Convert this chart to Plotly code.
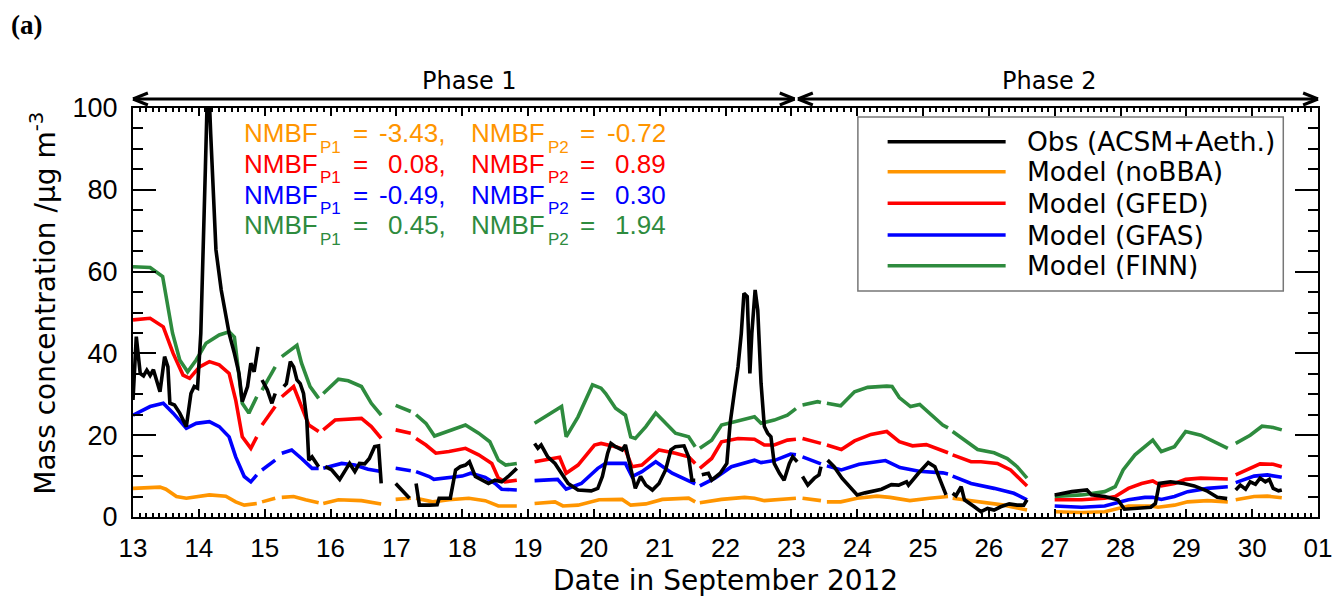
import plotly.graph_objects as go

# ---------------- data (day of September 2012, concentration) ----------------
finn_t = [13.00,13.26,13.45,13.60,13.71,13.83,13.96,14.11,14.31,14.46,14.54,14.61,14.66,14.76,14.88,None,
          14.96,15.16,None,
          15.26,15.49,15.56,15.69,15.82,None,
          15.89,16.12,16.27,16.47,16.62,16.77,None,
          16.99,17.22,None,
          17.30,17.45,17.58,17.78,18.05,18.25,18.42,18.55,18.66,18.83,None,
          19.10,19.51,19.58,19.76,19.98,20.11,20.18,20.33,20.48,20.56,20.63,20.79,20.94,21.09,21.24,21.44,21.54,None,
          21.61,21.79,21.94,22.14,22.44,22.54,22.74,22.94,23.07,None,
          23.17,23.40,23.45,None,
          23.54,23.75,23.96,24.16,24.45,24.53,24.64,24.81,24.95,25.16,25.30,25.38,None,
          25.45,25.63,25.83,26.08,26.28,26.43,26.58,None,
          27.00,27.41,27.76,27.92,28.04,28.22,28.49,28.62,28.82,28.99,29.22,29.47,29.63,None,
          29.75,29.97,30.15,30.32,30.45]
finn_v = [61.2,61.0,58.8,45.0,38.4,35.5,38.4,42.5,44.5,45.3,44.0,35.2,27.8,25.4,29.4,None,
          31.0,36.7,None,
          39.2,42.0,37.6,31.9,29.0,None,
          30.2,33.7,33.3,31.9,27.8,24.9,None,
          27.3,25.8,None,
          25.0,22.9,19.8,20.9,22.5,20.5,18.4,13.9,12.7,13.1,None,
          22.9,27.0,19.6,24.5,32.3,31.5,30.2,26.6,24.9,19.6,19.2,22.1,25.4,22.9,20.5,19.6,17.2,None,
          16.8,18.8,22.5,23.3,24.5,22.9,23.7,24.9,26.5,None,
          27.4,28.2,28.0,None,
          27.8,27.2,30.6,31.7,32.0,31.9,29.2,27.0,27.5,24.5,22.5,21.8,None,
          20.9,18.8,16.5,15.7,14.3,12.3,9.5,None,
          5.0,5.4,6.2,7.4,11.5,15.2,18.8,16.0,17.2,20.9,20.0,18.0,16.8,None,
          18.0,20.0,22.2,21.9,21.3]

gfed_t = [13.00,13.26,13.46,13.61,13.76,13.86,14.01,14.16,14.31,14.46,14.56,14.66,14.79,14.88,None,
          14.96,15.16,None,
          15.26,15.44,15.56,15.67,15.82,None,
          15.89,16.07,16.47,16.62,16.77,None,
          16.99,17.22,None,
          17.30,17.45,17.60,17.80,18.05,18.25,18.45,18.55,18.65,18.83,None,
          19.10,19.48,19.58,19.76,20.01,20.11,20.33,20.48,20.58,20.73,20.99,21.24,21.44,21.54,None,
          21.61,21.79,21.94,22.19,22.44,22.59,22.74,22.94,23.07,None,
          23.17,23.45,None,
          23.54,23.76,23.96,24.21,24.45,24.64,24.84,25.05,25.30,25.38,None,
          25.45,25.73,25.88,26.13,26.33,26.58,None,
          27.00,27.41,27.76,27.92,28.12,28.32,28.49,28.62,28.82,28.99,29.22,29.63,None,
          29.75,30.12,30.32,30.45]
gfed_v = [48.2,48.6,46.5,40.0,34.7,33.9,36.7,38.0,37.2,35.1,28.6,19.6,16.8,19.6,None,
          22.5,27.0,None,
          29.4,31.9,27.0,22.5,20.9,None,
          21.3,23.7,24.1,22.1,19.2,None,
          21.3,20.5,None,
          19.2,17.6,15.6,16.0,16.8,15.2,13.1,9.5,8.6,9.0,None,
          13.5,14.6,10.7,12.7,17.6,18.0,17.2,16.4,12.3,12.7,16.4,15.6,14.7,13.1,None,
          11.9,14.3,18.4,19.2,19.0,17.6,17.6,18.8,19.0,None,
          19.2,18.0,None,
          17.6,16.5,18.6,20.2,20.9,18.4,17.4,17.7,16.2,15.7,None,
          15.2,13.5,13.5,13.1,11.5,7.6,None,
          4.2,4.2,4.6,5.0,7.0,8.2,8.8,7.6,8.2,9.2,9.5,9.3,None,
          10.3,13.0,12.9,12.3]

gfas_t = [13.00,13.26,13.46,13.61,13.81,13.96,14.16,14.31,14.46,14.56,14.69,14.79,14.88,None,
          14.96,15.16,None,
          15.26,15.41,15.56,15.72,15.82,None,
          15.89,16.17,16.37,16.57,16.77,None,
          16.99,17.22,None,
          17.30,17.50,17.57,17.80,18.00,18.13,18.35,18.50,18.60,18.83,None,
          19.10,19.45,19.58,19.81,20.06,20.18,20.48,20.58,20.73,20.94,21.19,21.39,21.54,None,
          21.61,21.84,22.09,22.44,22.54,22.74,22.99,23.07,None,
          23.17,23.45,None,
          23.54,23.76,24.03,24.43,24.65,24.94,25.30,25.38,None,
          25.45,25.73,26.08,26.38,26.58,None,
          27.00,27.41,27.76,27.92,28.12,28.37,28.49,28.62,28.82,29.02,29.32,29.63,None,
          29.75,30.03,30.23,30.45]
gfas_v = [24.9,27.0,27.8,25.4,21.7,22.9,23.3,22.1,19.6,14.7,9.9,8.6,10.3,None,
          11.5,13.9,None,
          15.6,16.4,14.3,11.9,11.9,None,
          11.9,13.1,12.7,11.7,11.1,None,
          11.9,11.3,None,
          11.1,9.9,9.2,9.6,10.0,10.7,9.7,8.2,6.8,6.6,None,
          8.9,9.2,6.8,8.2,11.9,13.1,13.1,9.9,11.1,13.5,10.7,9.2,8.1,None,
          7.6,9.5,12.3,13.9,13.3,13.8,15.4,15.2,None,
          14.7,13.0,None,
          12.5,11.5,12.9,13.8,12.1,11.2,10.8,10.5,None,
          10.0,8.2,7.0,5.8,4.2,None,
          2.7,2.4,2.7,3.3,4.2,4.8,4.8,4.3,5.0,6.2,7.0,7.4,None,
          8.4,10.0,10.3,9.7]

nobba_t = [13.00,13.41,13.50,13.66,13.81,13.96,14.16,14.41,14.56,14.69,14.88,None,
           14.96,15.16,None,
           15.26,15.44,15.62,15.82,None,
           15.89,16.12,16.47,16.77,None,
           16.99,17.22,None,
           17.30,17.55,17.80,18.10,18.35,18.55,18.83,None,
           19.10,19.41,19.53,19.76,20.08,20.43,20.56,20.79,21.04,21.44,21.54,None,
           21.61,21.94,22.29,22.44,22.59,23.07,None,
           23.17,23.45,None,
           23.54,23.75,24.00,24.30,24.50,24.80,25.10,25.38,None,
           25.45,25.83,26.23,26.58,None,
           27.00,27.41,27.76,27.94,28.12,28.46,28.57,28.82,29.02,29.32,29.63,None,
           29.75,30.03,30.23,30.45]
nobba_v = [7.0,7.3,6.8,5.0,4.6,5.0,5.4,5.1,3.7,2.9,3.3,None,
           3.7,4.6,None,
           4.8,5.0,4.2,3.5,None,
           3.3,4.2,4.0,3.2,None,
           4.3,4.6,None,
           4.6,3.7,4.2,4.6,4.0,2.7,2.7,None,
           3.3,3.7,2.7,2.9,4.2,4.3,2.9,3.2,4.3,4.6,3.7,None,
           3.5,4.3,4.8,4.6,4.0,4.6,None,
           4.6,4.0,None,
           3.7,3.7,4.6,5.1,4.8,4.0,4.6,5.0,None,
           4.6,3.7,2.9,1.7,None,
           1.3,1.1,1.3,2.1,2.7,2.7,2.4,2.9,3.7,4.0,3.7,None,
           4.2,5.0,5.1,4.7]

obs_t = [13.00,13.05,13.11,13.16,13.21,13.26,13.31,13.36,13.41,13.48,13.53,13.56,13.63,13.71,13.81,13.88,13.93,13.98,
         14.03,14.10,14.14,14.18,14.26,14.34,14.41,14.46,14.54,14.61,14.66,14.74,14.79,14.84,14.90,None,
         14.96,15.04,15.11,15.16,None,
         15.29,15.33,15.39,15.44,15.49,15.54,15.59,15.64,15.67,15.72,15.82,None,
         15.92,16.02,16.14,16.22,16.29,16.37,16.44,16.52,16.59,16.67,16.73,16.77,None,
         16.99,17.10,17.20,None,
         17.30,17.35,17.50,17.62,17.65,17.82,17.90,17.97,18.05,18.11,18.20,18.30,18.40,18.50,18.60,18.70,18.83,None,
         19.10,19.15,19.20,19.30,19.41,19.51,19.61,19.76,19.96,20.06,20.13,20.21,20.26,20.33,20.43,20.48,20.53,
         20.63,20.71,20.79,20.89,20.99,21.09,21.17,21.24,21.37,21.44,21.49,21.54,None,
         21.64,21.74,21.79,21.92,22.02,22.07,22.14,22.19,22.24,22.28,22.33,22.37,22.40,22.45,22.49,22.54,22.59,
         22.64,22.69,22.74,22.82,22.89,22.97,23.02,23.09,None,
         23.17,23.25,23.35,23.42,23.45,None,
         23.55,23.65,23.77,24.00,24.12,24.37,24.52,24.63,24.75,24.78,24.93,25.08,25.18,25.35,None,
         25.45,25.50,25.58,25.63,25.78,25.88,25.98,26.08,26.18,26.31,26.43,26.53,26.58,None,
         27.00,27.26,27.49,27.56,27.76,27.96,28.06,28.26,28.46,28.53,28.59,28.76,28.96,29.12,29.31,29.47,29.62,None,
         29.75,29.82,29.90,29.97,30.05,30.12,30.20,30.26,30.32,30.40,30.45]
obs_v = [28.6,44.1,35.1,34.5,35.9,34.6,36.0,33.5,30.6,39.2,36.7,27.8,27.4,25.4,22.1,30.2,31.9,31.5,
         44.9,85.6,110.0,93.8,65.3,55.5,49.0,44.9,40.0,35.1,28.2,31.9,37.6,35.5,41.6,None,
         33.5,31.1,27.8,30.2,None,
         31.9,32.6,38.0,36.7,33.5,32.6,30.2,23.7,13.9,14.7,12.3,None,
         12.3,11.5,9.2,11.1,13.1,11.1,13.1,13.0,14.3,17.2,17.4,8.2,None,
         8.2,6.3,4.6,None,
         8.2,2.9,2.9,3.0,4.6,4.6,11.5,12.3,12.7,13.5,9.9,9.0,8.2,9.0,8.6,9.9,11.9,None,
         18.0,16.8,17.6,14.7,13.1,10.7,8.2,6.6,6.4,7.0,9.9,15.6,18.0,17.2,16.4,17.6,13.9,
         7.0,9.9,7.8,6.6,8.2,11.5,16.4,17.2,17.4,14.7,9.0,9.0,None,
         10.3,10.7,9.0,10.7,13.1,22.9,31.1,36.7,44.9,54.7,53.9,35.1,44.9,55.5,50.6,32.7,22.1,
         20.5,19.6,13.1,10.7,9.0,13.1,14.7,13.5,None,
         9.9,7.8,9.5,10.3,12.3,None,
         13.9,12.3,9.5,5.4,5.9,6.8,7.9,7.8,8.6,7.8,10.7,13.3,12.3,5.4,None,
         5.8,5.2,7.4,4.2,2.5,1.3,2.1,1.7,2.5,3.2,2.9,2.9,4.2,None,
         5.4,6.2,6.6,5.4,5.0,4.2,1.9,2.1,2.4,3.3,8.2,8.6,8.2,7.6,6.4,4.8,4.5,None,
         6.6,7.8,6.8,8.6,8.0,9.5,8.6,9.2,7.0,6.4,6.6]

x_tickvals = list(range(13, 32))
x_ticktext = [str(d) for d in range(13, 31)] + ["01"]

series_names = ["Obs (ACSM+Aeth.)", "Model (noBBA)", "Model (GFED)", "Model (GFAS)", "Model (FINN)"]
series_colors = ["#000000", "#FF9500", "#FF0000", "#0000FF", "#2E8B3E"]
nmbf_p1 = ["-3.43,", "0.08,", "-0.49,", "0.45,"]
nmbf_p2 = ["-0.72", "0.89", "0.30", "1.94"]
phase_days = [(13.0, 23.05, "Phase 1"), (23.10, 31.0, "Phase 2")]

# ---------------- figure ----------------
W, H = 1344, 598
L, R, T, B = 133, 16, 108, 81
PW, PH = W - L - R, H - T - B
HELV = "Liberation Sans, Arial, Helvetica, sans-serif"
WIDE = "DejaVu Sans, Verdana, sans-serif"


def px(X):
    return (X - L) / PW


def py(Y):
    return (H - B - Y) / PH


fig = go.Figure()
series = [(obs_t, obs_v), (nobba_t, nobba_v), (gfed_t, gfed_v), (gfas_t, gfas_v), (finn_t, finn_v)]
order = [1, 2, 3, 4, 0]
for i in order:
    t, v = series[i]
    fig.add_trace(go.Scatter(x=t, y=v, mode="lines", name=series_names[i],
                             line=dict(color=series_colors[i], width=3.6),
                             connectgaps=False, showlegend=False, hoverinfo="skip"))

shapes = []
annotations = []


def note(X, Y, text, size, color="black", xanchor="left", yanchor="middle", family=WIDE, **kw):
    annotations.append(dict(xref="paper", yref="paper", x=px(X), y=py(Y), text=text, showarrow=False,
                            xanchor=xanchor, yanchor=yanchor, font=dict(family=family, size=size, color=color),
                            **kw))


# legend box
shapes.append(dict(type="rect", xref="paper", yref="paper", x0=px(864), x1=px(1293), y0=py(291), y1=py(117),
                   line=dict(color="#777777", width=1.5), fillcolor="white", layer="above"))
rows_y = [141.7, 171.7, 203.3, 235.0, 265.7]
for i, name in enumerate(series_names):
    shapes.append(dict(type="line", xref="paper", yref="paper", x0=px(894), x1=px(1013),
                       y0=py(rows_y[i]), y1=py(rows_y[i]), line=dict(color=series_colors[i], width=3.6),
                       layer="above"))
    note(1033, rows_y[i], name, 26.5)

# NMBF text (pieces placed like the reference)
nmbf_y = [133, 163.5, 194.5, 225]
for i in range(4):
    c = series_colors[i + 1]
    yy = nmbf_y[i]
    note(243, yy, "NMBF", 26, c, family=HELV)
    note(320, yy + 14, "P1", 17, c, family=HELV)
    note(362, yy, "=", 26, c, xanchor="center", family=HELV)
    note(451, yy, nmbf_p1[i], 26, c, xanchor="right", family=HELV)
    note(472, yy, "NMBF", 26, c, family=HELV)
    note(549, yy + 14, "P2", 17, c, family=HELV)
    note(591, yy, "=", 26, c, xanchor="center", family=HELV)
    note(673, yy, nmbf_p2[i], 26, c, xanchor="right", family=HELV)

# phase arrows
ay = 99
label_x = [472, 1057]
for k, (d0, d1, label) in enumerate(phase_days):
    X0 = L + (d0 - 13) / 18 * PW
    X1 = L + (d1 - 13) / 18 * PW
    shapes.append(dict(type="line", xref="paper", yref="paper", x0=px(X0), x1=px(X1), y0=py(ay), y1=py(ay),
                       line=dict(color="black", width=3)))
    for tip, sgn in ((X0, 1), (X1, -1)):
        for dy in (-6, 6):
            shapes.append(dict(type="line", xref="paper", yref="paper", x0=px(tip), y0=py(ay),
                               x1=px(tip + sgn * 15), y1=py(ay + dy), line=dict(color="black", width=3)))
    note(label_x[k], 81, label, 24, xanchor="center")

# titles
note(8, 25, "<b>(a)</b>", 27, family="Liberation Serif, Times New Roman, serif")
note(42, 303, "Mass concentration /μg m<sup>-3</sup>", 28, xanchor="center", textangle=-90)
note(730, 580, "Date in September 2012", 28, xanchor="center")

fig.update_layout(
    width=W, height=H, margin=dict(l=L, r=R, t=T, b=B, pad=0),
    paper_bgcolor="white", plot_bgcolor="white",
    font=dict(family=HELV, color="black"),
    shapes=shapes, annotations=annotations, showlegend=False,
)
fig.update_xaxes(range=[13, 31], tickvals=x_tickvals, ticktext=x_ticktext, ticks="inside", ticklen=8,
                 tickwidth=2, tickcolor="black", showline=True, linewidth=2, linecolor="black",
                 mirror="allticks", showgrid=False, zeroline=False, tickfont=dict(size=26, family=HELV),
                 ticklabelstandoff=7,
                 minor=dict(ticks="inside", ticklen=4, tickwidth=1.5, tickcolor="black", dtick=0.1, tick0=13,
                            showgrid=False))
fig.update_yaxes(range=[0, 100], tickvals=[0, 20, 40, 60, 80, 100], ticks="inside", ticklen=23,
                 tickwidth=2, tickcolor="black", showline=True, linewidth=2, linecolor="black",
                 mirror="allticks", showgrid=False, zeroline=False, tickfont=dict(size=27, family=HELV),
                 ticklabelstandoff=8,
                 minor=dict(ticks="inside", ticklen=10, tickwidth=2, tickcolor="black", dtick=5, tick0=0,
                            showgrid=False))

fig.write_html("out.html")
